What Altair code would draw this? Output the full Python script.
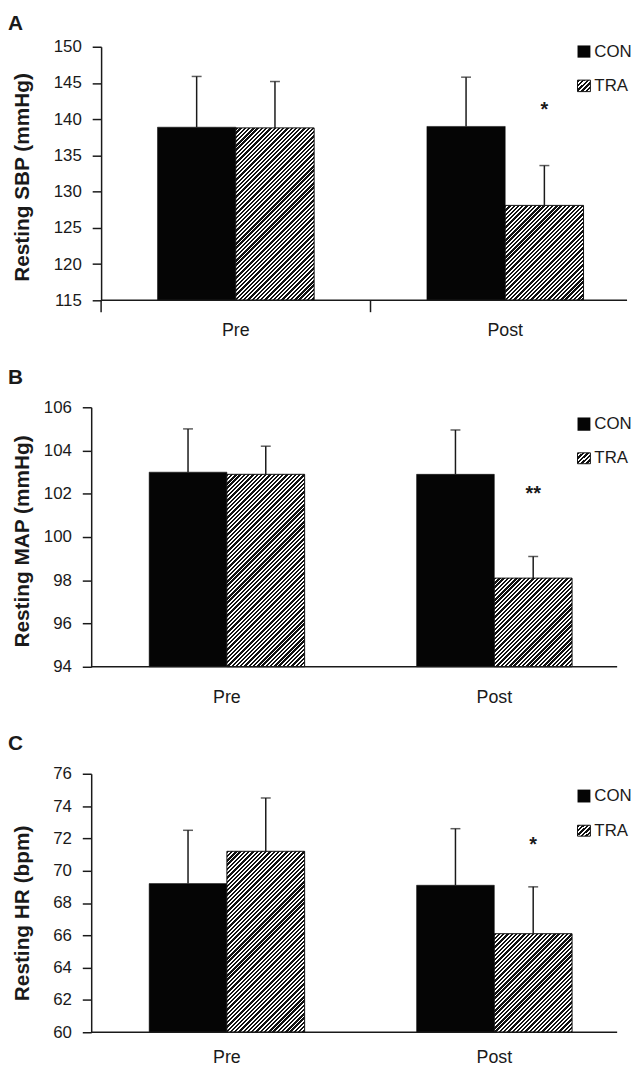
import math
import altair as alt
import pandas as pd

# ---------------- data ----------------
groups = ["Pre", "Post"]
series = ["CON", "TRA"]

# order of values: Pre-CON, Pre-TRA, Post-CON, Post-TRA
sbp_mean = [138.9, 138.8, 139.0, 128.1]
sbp_sem = [7.0, 6.4, 6.8, 5.5]
map_mean = [103.0, 102.9, 102.9, 98.1]
map_sem = [2.0, 1.3, 2.05, 1.0]
hr_mean = [69.2, 71.2, 69.1, 66.1]
hr_sem = [3.3, 3.3, 3.5, 2.9]

panel_letters = ["A", "B", "C"]
y_titles = ["Resting SBP (mmHg)", "Resting MAP (mmHg)", "Resting HR (bpm)"]
y_domains = [[115, 150], [94, 106], [60, 76]]
y_steps = [5, 2, 2]
sig_labels = ["*", "**", "*"]
sig_y = [140.4, 101.7, 71.2]

# ---------------- styling / layout ----------------
FONT = "Liberation Sans"
INK = "#1a1a1a"
PANEL_W = 546
heights = [256, 262, 261]
SPACING = 108
x_ranges = [[10, 554], [2, 542], [2, 542]]
axis_offsets = [-10, 0, 0]
base_x = [[10, 541], [0, 531], [0, 531]]
title_x = [-69, -59, -59]
title_dy = [3.5, 4, 10]
letter_y = [-34, -40.5, -40.5]
xlabel_pad = [22, 22, 17]
legend_con = [[-1.3, 11, 5], [10.3, 23.7, 17], [16, 29, 22.5]]
legend_tra = [[33.7, 45.3, 39.5], [46, 57, 51.5], [52, 63, 57.5]]
OFF_PAD = 0.72


def hatch(w, h, period=4.3, frac=0.55, fg="#111111", bg="#ffffff"):
    """Diagonal '/' stripes as a linear gradient in bounding-box units."""
    c = (w + h) / (w * w + h * h)
    n = (w + h) / period
    stops = []
    k = 0
    while k / n < 1:
        a = k / n
        b = min((k + frac) / n, 1.0)
        e = min((k + 1) / n, 1.0)
        stops += [
            alt.GradientStop(offset=a, color=fg),
            alt.GradientStop(offset=b, color=fg),
            alt.GradientStop(offset=b, color=bg),
            alt.GradientStop(offset=e, color=bg),
        ]
        k += 1
    return alt.LinearGradient(
        gradient="linear", stops=stops, x1=0, y1=0, x2=w * c, y2=h * c
    )


def make_panel(i, means, sems):
    lo, hi = y_domains[i]
    H = heights[i]
    rows = []
    k = 0
    for g in groups:
        for s in series:
            rows.append({"group": g, "series": s, "mean": means[k], "top": means[k] + sems[k]})
            k += 1
    df = pd.DataFrame(rows)

    xscale = alt.Scale(domain=groups, range=x_ranges[i], paddingInner=0, paddingOuter=0)
    xaxis = alt.Axis(
        title=None, labelAngle=0, ticks=False, domain=False, labelPadding=xlabel_pad[i],
        labelFontSize=18, labelFont=FONT, labelColor=INK,
    )
    xenc = alt.X("group:N", sort=groups, scale=xscale, axis=xaxis)
    xoff = alt.XOffset(
        "series:N", sort=series,
        scale=alt.Scale(domain=series, paddingInner=0, paddingOuter=OFF_PAD),
    )
    yvals = list(range(lo, hi + 1, y_steps[i]))
    yscale = alt.Scale(domain=[lo, hi], nice=False, zero=False)
    yaxis = alt.Axis(
        title=y_titles[i], values=yvals, tickCount=len(yvals), labelOverlap=False,
        offset=axis_offsets[i], titleX=title_x[i], titleY=H / 2 + title_dy[i],
        titleFontSize=21, titleFontWeight="bold", titleFont=FONT, titleColor=INK,
        labelFontSize=17, labelFont=FONT, labelColor=INK, labelPadding=11,
        tickSize=9, tickWidth=1.5, tickColor=INK, domainColor=INK, domainWidth=1.5,
        grid=False,
    )

    def yq(field):
        return alt.Y(f"{field}:Q", scale=yscale, axis=yaxis)

    base = alt.Chart(df).encode(x=xenc, xOffset=xoff)
    layers = []
    # CON bars
    layers.append(
        base.transform_filter("datum.series == 'CON'")
        .mark_bar(fill="#050505", stroke="#050505", strokeWidth=0.5)
        .encode(y=yq("mean"), y2=alt.datum(lo))
    )
    # TRA hatched bars
    step = (x_ranges[i][1] - x_ranges[i][0]) / len(groups)
    bw = step / (2 + 2 * OFF_PAD)
    for gi, g in enumerate(groups):
        idx = gi * 2 + 1
        hpx = (means[idx] - lo) / (hi - lo) * H
        layers.append(
            base.transform_filter(f"datum.series == 'TRA' && datum.group == '{g}'")
            .mark_bar(fill=hatch(bw, hpx), stroke="#111111", strokeWidth=1)
            .encode(y=yq("mean"), y2=alt.datum(lo))
        )
    # error bars (upper whisker)
    layers.append(base.mark_rule(color=INK, strokeWidth=1.5).encode(y=yq("mean"), y2="top:Q"))
    layers.append(base.mark_tick(color=INK, thickness=1.5, size=10).encode(y=yq("top")))

    one = pd.DataFrame({"d": [0]})
    # x baseline
    layers.append(
        alt.Chart(one).mark_rule(color=INK, strokeWidth=1.5).encode(
            x=alt.value(base_x[i][0]), x2=alt.value(base_x[i][1]), y=alt.datum(lo)
        )
    )
    # category tick marks below the axis (panel A only)
    if i == 0:
        layers.append(
            alt.Chart(pd.DataFrame({"group": groups})).mark_rule(color=INK, strokeWidth=1.5)
            .encode(
                x=alt.X("group:N", sort=groups, scale=xscale, axis=xaxis, bandPosition=0),
                y=alt.value(H), y2=alt.value(H + 12),
            )
        )
    # legend
    lc, lt = legend_con[i], legend_tra[i]
    layers.append(
        alt.Chart(one).mark_rect(fill="#050505").encode(
            x=alt.value(491), x2=alt.value(504), y=alt.value(lc[0]), y2=alt.value(lc[1])
        )
    )
    layers.append(
        alt.Chart(one).mark_rect(fill=hatch(13, 12, period=4.8, frac=0.55), stroke="#111111", strokeWidth=1).encode(
            x=alt.value(491), x2=alt.value(504), y=alt.value(lt[0]), y2=alt.value(lt[1])
        )
    )
    for name, yc in ((series[0], lc[2]), (series[1], lt[2])):
        layers.append(
            alt.Chart(pd.DataFrame({"s": [name]})).mark_text(
                align="left", baseline="middle", font=FONT, fontSize=17, color=INK
            ).encode(x=alt.value(508), y=alt.value(yc), text="s:N")
        )
    # panel letter
    layers.append(
        alt.Chart(pd.DataFrame({"t": [panel_letters[i]]})).mark_text(
            align="left", baseline="top", font=FONT, fontSize=21, fontWeight="bold", color=INK
        ).encode(x=alt.value(-84), y=alt.value(letter_y[i]), text="t:N")
    )
    # significance marker
    sig = pd.DataFrame({"group": ["Post"], "series": ["TRA"], "y": [sig_y[i]], "t": [sig_labels[i]]})
    layers.append(
        alt.Chart(sig).mark_text(
            baseline="alphabetic", font=FONT, fontSize=20, fontWeight="bold", color=INK
        ).encode(x=xenc, xOffset=xoff, y=yq("y"), text="t:N")
    )
    return alt.layer(*layers).properties(width=PANEL_W, height=H)


pA = make_panel(0, sbp_mean, sbp_sem)
pB = make_panel(1, map_mean, map_sem)
pC = make_panel(2, hr_mean, hr_sem)

chart = (
    alt.vconcat(pA, pB, pC, spacing=SPACING, bounds="flush")
    .resolve_scale(x="independent", y="independent", xOffset="independent")
    .properties(padding={"left": 0, "top": 0, "right": 0, "bottom": 0}, background="white")
    .configure_view(stroke=None)
)

chart.save("out.html", embed_options={"renderer": "svg", "actions": False})
